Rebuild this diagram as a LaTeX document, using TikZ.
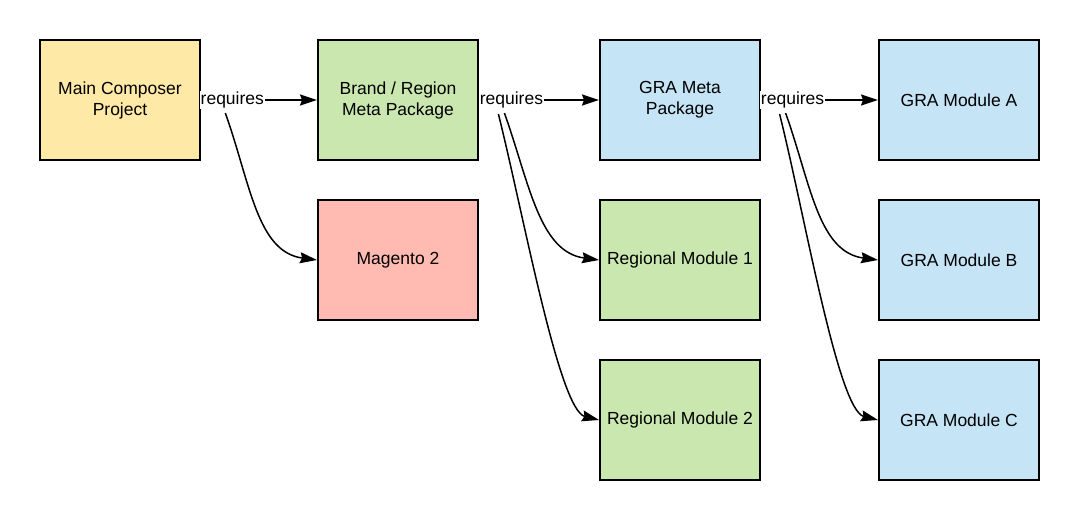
\documentclass[tikz,border=0pt]{standalone}
\usepackage{fontspec}
\setmainfont{Liberation Sans}
\usetikzlibrary{arrows.meta}

\definecolor{projyellow}{HTML}{FFE9A6}
\definecolor{metagreen}{HTML}{C9E7AF}
\definecolor{coresalmon}{HTML}{FFBBB1}
\definecolor{grablue}{HTML}{C5E4F6}

\tikzset{box/.style={draw, line width=2pt, minimum width=160pt, minimum height=120pt, inner sep=0pt, align=center}}
\tikzset{ project/.style={box, fill=projyellow}}
\tikzset{ regional/.style={box, fill=metagreen}}
\tikzset{ core/.style={box, fill=coresalmon}}
\tikzset{ gra/.style={box, fill=grablue}}
\tikzset{ req/.style={fill=white, inner sep=1pt}}
\tikzset{ dep/.style={-{Stealth[length=17pt,width=11pt,inset=2pt]}, line width=1.5pt}}

\begin{document}
\begin{tikzpicture}[x=1pt, y=-1pt, every node/.style={font=\fontsize{17.5}{21}\selectfont}]
  \useasboundingbox (0,0) rectangle (1079,520);
  % first column
  \node[project] (MainProject) at (120,100) {Main Composer\\Project};
  % second column
  \node[regional] (BrandMeta) at (398,100) {Brand / Region\\Meta Package};
  \node[core] (Magento) at (398,260) {Magento 2};
  % third column
  \node[gra] (GraMeta) at (680,100) {GRA Meta\\Package};
  \node[regional] (RegionalOne) at (680,260) {Regional Module 1};
  \node[regional] (RegionalTwo) at (680,420) {Regional Module 2};
  % fourth column
  \node[gra] (GraA) at (959,100) {GRA Module A};
  \node[gra] (GraB) at (959,260) {GRA Module B};
  \node[gra] (GraC) at (959,420) {GRA Module C};

  \draw[dep] (MainProject) -- node[req,pos=0.27] (ReqMain) {requires} (BrandMeta);
  \draw[dep] (BrandMeta) -- node[req,pos=0.27] (ReqBrand) {requires} (GraMeta);
  \draw[dep] (GraMeta) -- node[req,pos=0.27] (ReqGra) {requires} (GraA);

  \coordinate (FromMain) at ([shift={(-7,13)}]ReqMain.center);
  \coordinate (FromBrandA) at ([shift={(-7,13)}]ReqBrand.center);
  \coordinate (FromBrandB) at ([shift={(-13,14)}]ReqBrand.center);
  \coordinate (FromGraA) at ([shift={(-7,13)}]ReqGra.center);
  \coordinate (FromGraB) at ([shift={(-13,14)}]ReqGra.center);

  \draw[dep] (FromMain) .. controls +(25,70) and +(-60,-8) .. (Magento.west);
  \draw[dep] (FromBrandA) .. controls +(25,70) and +(-60,-8) .. (RegionalOne.west);
  \draw[dep] (FromBrandB) .. controls +(25,100) and +(-40,-10) .. (RegionalTwo.west);
  \draw[dep] (FromGraA) .. controls +(25,70) and +(-60,-8) .. (GraB.west);
  \draw[dep] (FromGraB) .. controls +(25,100) and +(-40,-10) .. (GraC.west);
\end{tikzpicture}
\end{document}
